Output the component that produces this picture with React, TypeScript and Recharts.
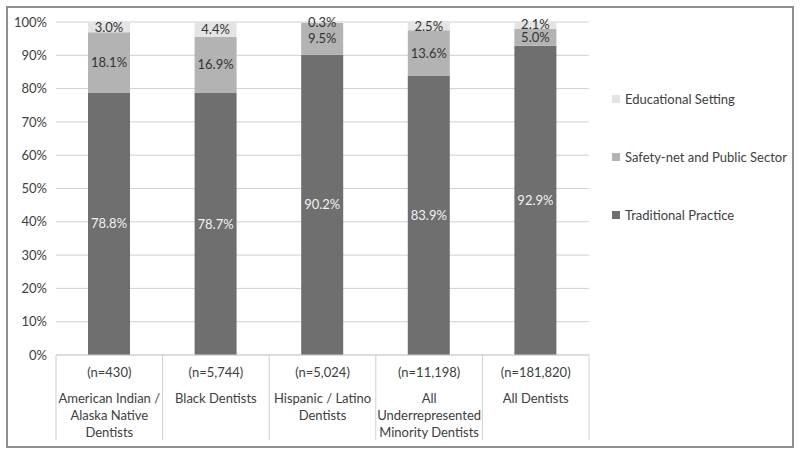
import React from 'react';
import { BarChart, Bar, XAxis, YAxis, CartesianGrid, Legend, LabelList } from 'recharts';

const categories = [
  'American Indian / Alaska Native Dentists',
  'Black Dentists',
  'Hispanic / Latino Dentists',
  'All Underrepresented Minority Dentists',
  'All Dentists',
];
const categoryLines = [
  ['American Indian /', 'Alaska Native', 'Dentists'],
  ['Black Dentists'],
  ['Hispanic / Latino', 'Dentists'],
  ['All', 'Underrepresented', 'Minority Dentists'],
  ['All Dentists'],
];
const sampleSizes = ['(n=430)', '(n=5,744)', '(n=5,024)', '(n=11,198)', '(n=181,820)'];
const traditional = [78.8, 78.7, 90.2, 83.9, 92.9];
const safetyNet = [18.1, 16.9, 9.5, 13.6, 5.0];
const educational = [3.0, 4.4, 0.3, 2.5, 2.1];
const yTicks = [0, 10, 20, 30, 40, 50, 60, 70, 80, 90, 100];
const legendOrder = ['Educational Setting', 'Safety-net and Public Sector', 'Traditional Practice'];

const data = categories.map((name, i) => ({
  name,
  traditional: traditional[i],
  safetyNet: safetyNet[i],
  educational: educational[i],
}));

const FONT = 'Lato, "Open Sans", sans-serif';
const TEXT = '#404040';
const GRID = '#d0d0d0';

const XTick = (props: any) => {
  const { x, y, payload, index, width } = props;
  const i = typeof payload?.index === 'number' ? payload.index : index;
  const half = typeof payload?.offset === 'number' && payload.offset > 0 ? payload.offset : width / categories.length / 2;
  const lines = categoryLines[i] || [];
  const isLast = i === categories.length - 1;
  return (
    <g>
      <line x1={x - half} x2={x - half} y1={y} y2={y + 85} stroke={GRID} strokeWidth={1} />
      {isLast && <line x1={x + half} x2={x + half} y1={y} y2={y + 85} stroke={GRID} strokeWidth={1} />}
      <text x={x} y={y + 21.5} textAnchor="middle" fill={TEXT} fontSize={13} fontFamily={FONT}>
        {sampleSizes[i]}
      </text>
      {lines.map((l, k) => (
        <text key={k} x={x} y={y + 48 + k * 17} textAnchor="middle" fill={TEXT} fontSize={13} fontFamily={FONT}>
          {l}
        </text>
      ))}
    </g>
  );
};

const renderLegend = (props: any) => {
  const items = [...(props.payload || [])].sort(
    (a: any, b: any) => legendOrder.indexOf(a.value) - legendOrder.indexOf(b.value)
  );
  return (
    <div style={{ fontFamily: FONT, fontSize: 13, color: TEXT }}>
      {items.map((it: any, i: number) => (
        <div
          key={i}
          style={{ display: 'flex', alignItems: 'center', height: 16, marginBottom: i < items.length - 1 ? 42 : 0, whiteSpace: 'nowrap' }}
        >
          <span style={{ display: 'inline-block', width: 8, height: 8, background: it.color, marginRight: 5 }} />
          <span>{it.value}</span>
        </div>
      ))}
    </div>
  );
};

const fmt = (v: any) => `${Number(v).toFixed(1)}%`;

// Educational label: centered on its segment, but nudged up if it would collide with the label below
const EduLabel = (props: any) => {
  const { x, y, width, height, value, index } = props;
  const v = Number(value);
  const cx = x + width / 2;
  let cy = y + height / 2;
  if (v > 0 && height > 0) {
    const pxPerUnit = height / v;
    const belowCenter = y + height + (safetyNet[index] * pxPerUnit) / 2;
    const minGap = 13;
    if (belowCenter - cy < minGap) cy = belowCenter - minGap;
  }
  return (
    <text x={cx} y={cy} dy="0.355em" textAnchor="middle" fill="#333333" fontSize={13} fontFamily={FONT}>
      {fmt(value)}
    </text>
  );
};

export default function App() {
  return (
    <div style={{ position: 'absolute', left: 0, top: 0, width: 800, height: 457, background: '#fff' }}>
      <BarChart
        width={800}
        height={457}
        data={data}
        margin={{ top: 22, right: 211, left: 0, bottom: 0 }}
        barCategoryGap={0}
        style={{ fontFamily: FONT }}
      >
        <CartesianGrid vertical={false} stroke={GRID} />
        <XAxis
          dataKey="name"
          height={102}
          tickLine={false}
          tickSize={0}
          tickMargin={0}
          axisLine={{ stroke: GRID }}
          tick={<XTick />}
          interval={0}
        />
        <YAxis
          domain={[0, 100]}
          ticks={yTicks}
          tickFormatter={(v: number) => `${v}%`}
          axisLine={false}
          tickLine={false}
          tickSize={6}
          tickMargin={3}
          width={56}
          tick={{ fill: TEXT, fontSize: 13, fontFamily: FONT }}
          interval={0}
        />
        <Legend
          layout="horizontal"
          verticalAlign="middle"
          align="center"
          content={renderLegend}
          wrapperStyle={{ left: 612, top: 91, width: 180, right: 'auto', bottom: 'auto' }}
        />
        <Bar dataKey="traditional" name="Traditional Practice" stackId="a" fill="#6f6f6f" barSize={42} isAnimationActive={false}>
          <LabelList dataKey="traditional" position="center" formatter={fmt} fill="#f2f2f2" fontSize={13} fontFamily={FONT} />
        </Bar>
        <Bar dataKey="safetyNet" name="Safety-net and Public Sector" stackId="a" fill="#b3b3b3" barSize={42} isAnimationActive={false}>
          <LabelList dataKey="safetyNet" position="center" formatter={fmt} fill="#333333" fontSize={13} fontFamily={FONT} />
        </Bar>
        <Bar dataKey="educational" name="Educational Setting" stackId="a" fill="#e4e4e4" barSize={42} isAnimationActive={false}>
          <LabelList dataKey="educational" content={<EduLabel />} />
        </Bar>
      </BarChart>
      <div
        style={{
          position: 'absolute',
          left: 6,
          top: 6,
          width: 788,
          height: 442,
          boxSizing: 'border-box',
          border: '2px solid #8f8f8f',
          pointerEvents: 'none',
        }}
      />
    </div>
  );
}
